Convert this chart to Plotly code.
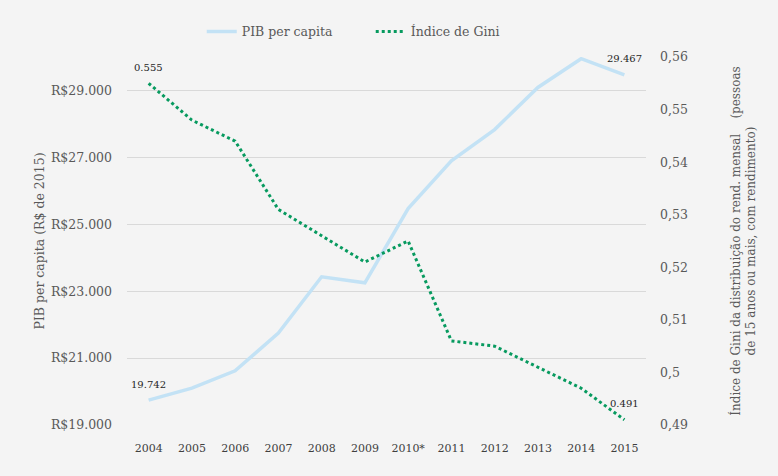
import plotly.graph_objects as go

years = ["2004", "2005", "2006", "2007", "2008", "2009", "2010*", "2011", "2012", "2013", "2014", "2015"]
pib = [19742, 20100, 20620, 21750, 23430, 23250, 25470, 26900, 27830, 29090, 29950, 29467]
gini = [0.555, 0.548, 0.544, 0.531, 0.526, 0.521, 0.525, 0.506, 0.505, 0.501, 0.497, 0.491]
pib_labels = ["19.742", "", "", "", "", "", "", "", "", "", "", "29.467"]
gini_labels = ["0.555", "", "", "", "", "", "", "", "", "", "", "0.491"]

left_tickvals = [19000, 21000, 23000, 25000, 27000, 29000]
left_ticktext = ["R$19.000", "R$21.000", "R$23.000", "R$25.000", "R$27.000", "R$29.000"]
right_tickvals = [0.49, 0.50, 0.51, 0.52, 0.53, 0.54, 0.55, 0.56]
right_ticktext = ["0,49", "0,5", "0,51", "0,52", "0,53", "0,54", "0,55", "0,56"]

FONT = "DejaVu Serif"
BG = "#f4f4f4"

fig = go.Figure()
fig.add_trace(go.Scatter(
    x=years, y=pib, name="PIB per capita", mode="lines",
    line=dict(color="#c3e2f5", width=3.5),
    yaxis="y", cliponaxis=False,
))
fig.add_trace(go.Scatter(
    x=years, y=gini, name="Índice de Gini", mode="lines",
    line=dict(color="#079a5f", width=3, dash="3px,3px"),
    yaxis="y2", cliponaxis=False,
))

annotations = []
for lbls, vals, yref in ((pib_labels, pib, "y"), (gini_labels, gini, "y2")):
    for i, (yv, t) in enumerate(zip(vals, lbls)):
        if t:
            annotations.append(dict(
                x=i, y=yv, xref="x", yref=yref, text=t, showarrow=False,
                yshift=16, font=dict(family=FONT, size=10, color="#262626")))

fig.update_layout(
    width=778, height=476,
    paper_bgcolor=BG, plot_bgcolor=BG,
    margin=dict(l=127, r=132, t=57, b=51, autoexpand=False),
    font=dict(family=FONT, color="#595959", size=12),
    showlegend=True,
    annotations=annotations,
    legend=dict(orientation="h", x=0.144, xanchor="left", y=1.068, yanchor="middle",
                font=dict(family=FONT, size=12.5, color="#595959"),
                entrywidth=124, entrywidthmode="pixels",
                bgcolor="rgba(0,0,0,0)", tracegroupgap=0),
    xaxis=dict(type="category", range=[-0.5, len(years) - 0.5], autorange=False,
               showgrid=False, showline=False, zeroline=False,
               ticks="", ticklabelstandoff=15, automargin=False,
               tickfont=dict(family=FONT, size=11, color="#404040")),
    yaxis=dict(range=[19000, 30000], tickvals=left_tickvals, ticktext=left_ticktext,
               showgrid=True, gridcolor="#d9d9d9", gridwidth=1, zeroline=False,
               showline=False, ticks="", ticklabelstandoff=14, automargin=False,
               tickfont=dict(family=FONT, size=12.5, color="#595959"),
               title=dict(text="PIB per capita (R$ de 2015)", standoff=3,
                          font=dict(family=FONT, size=12.5, color="#595959"))),
    yaxis2=dict(range=[0.49, 0.56], tickvals=right_tickvals, ticktext=right_ticktext,
                overlaying="y", side="right", showgrid=False, zeroline=False,
                showline=False, ticks="", ticklabelstandoff=13, automargin=False,
                tickfont=dict(family=FONT, size=12.5, color="#595959"),
                title=dict(text="Índice de Gini da distribuição do rend. mensal\u00a0\u00a0\u00a0\u00a0(pessoas<br>de 15 anos ou mais, com rendimento)",
                           standoff=44,
                           font=dict(family=FONT, size=12, color="#595959"))),
)

fig.write_html("out.html", config={"displayModeBar": False},
               post_script="document.body.style.margin='0';document.body.style.background='%s';" % BG)
